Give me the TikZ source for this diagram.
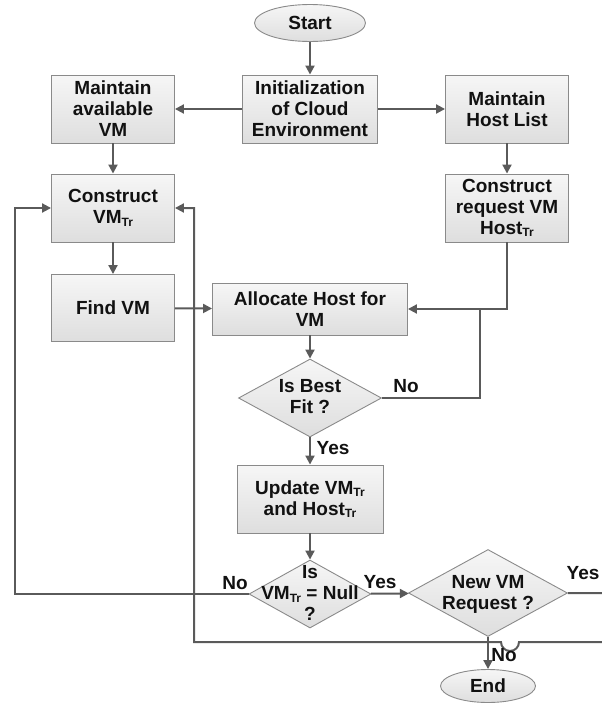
\documentclass[tikz,border=0pt]{standalone}
\usepackage{fontspec}
\setmainfont{Liberation Sans}
\usetikzlibrary{shapes.geometric,arrows.meta}
\definecolor{lncol}{HTML}{5A5A5A}
\definecolor{bdcol}{HTML}{8A8A8A}
\definecolor{topc}{HTML}{F6F6F6}
\definecolor{botc}{HTML}{DEDEDE}
\definecolor{txcol}{HTML}{111111}
\newcommand{\trsub}{\raisebox{-2.5pt}{\fontsize{12}{12}\selectfont Tr}}
\begin{document}
\begin{tikzpicture}[x=1pt,y=-1pt,
  every node/.style={font=\fontsize{19}{21}\selectfont\bfseries, text=txcol},
  box/.style={rectangle, draw=bdcol, line width=0.9pt, top color=topc, bottom color=botc, align=center, inner sep=0pt},
  dia/.style={diamond, draw=bdcol, line width=0.9pt, top color=topc, bottom color=botc, inner sep=0pt},
  oval/.style={ellipse, draw=bdcol, line width=0.9pt, top color=topc, bottom color=botc, inner sep=0pt},
  conn/.style={draw=lncol, line width=2pt},
  arr/.style={conn, -{Triangle[length=9pt,width=9pt]}},
  lbl/.style={inner sep=0pt, align=center}
]
\useasboundingbox (0,0) rectangle (602,704);
\clip (0,0) rectangle (602,704);

% nodes
\node[oval, minimum width=111pt, minimum height=37pt] (start) at (310,23) {Start};
\node[box, minimum width=135pt, minimum height=68pt] (init) at (310,109) {Initialization\\of Cloud\\Environment};
\node[box, minimum width=123pt, minimum height=68pt] (mvm) at (113,109) {Maintain\\available\\VM};
\node[box, minimum width=123pt, minimum height=68pt] (mhl) at (507,109) {Maintain\\Host List};
\node[box, minimum width=123pt, minimum height=68pt] (cvm) at (113,208) {Construct\\VM\trsub};
\node[box, minimum width=123pt, minimum height=68pt] (creq) at (507,208) {Construct\\request VM\\Host\trsub};
\node[box, minimum width=123pt, minimum height=67pt] (find) at (113,308) {Find VM};
\node[box, minimum width=195pt, minimum height=52pt] (alloc) at (310,309) {Allocate Host for\\VM};
\node[dia, minimum width=143pt, minimum height=78pt] (fit) at (310,398) {};
\node[lbl] (fittxt) at (310,397) {Is Best\\Fit ?};
\node[box, minimum width=146pt, minimum height=68pt] (upd) at (310,499) {Update VM\trsub\\and Host\trsub};
\node[dia, minimum width=122pt, minimum height=68pt] (null) at (310,594) {};
\node[lbl] (nulltxt) at (310,593) {Is\\VM\trsub{} = Null\\?};
\node[dia, minimum width=159pt, minimum height=87pt] (nvm) at (488,593) {};
\node[lbl] (nvmtxt) at (488,594) {New VM\\Request ?};
\node[oval, minimum width=95pt, minimum height=33pt] (end) at (488,686) {End};

% helper coordinates
\coordinate (lc) at (15,0);
\coordinate (rc) at (194,0);
\coordinate (j) at (480,309);
\coordinate (ret) at (625,642);
\coordinate (hopR) at (519,642);

% connectors
\draw[arr] (start) -- (init);
\draw[arr] (init) -- (mvm);
\draw[arr] (init) -- (mhl);
\draw[arr] (mvm) -- (cvm);
\draw[arr] (mhl) -- (creq);
\draw[arr] (cvm) -- (find);
\draw[arr] (find) -- (alloc);
\draw[arr] (creq.south) |- (alloc.east);
\draw[conn] (fit.east) -| (j);
\draw[arr] (alloc) -- (fit);
\draw[arr] (fit) -- (upd);
\draw[arr] (upd) -- (null);
\draw[arr] (null) -- (nvm);
\draw[arr] (nvm) -- (end);
\draw[arr] (null.west) -- (null.west -| lc) |- (cvm.west);
\draw[arr] (nvm.east) -| (ret) -- (hopR) arc[start angle=0, end angle=180, radius=9] -- (rc |- ret) |- (cvm.east);

% labels
\node[lbl] at (406,386) {No};
\node[lbl] at (333,448) {Yes};
\node[lbl] at (235,583) {No};
\node[lbl] at (380,582) {Yes};
\node[lbl] at (583,573) {Yes};
\node[lbl] at (504,655) {No};
\end{tikzpicture}
\end{document}
